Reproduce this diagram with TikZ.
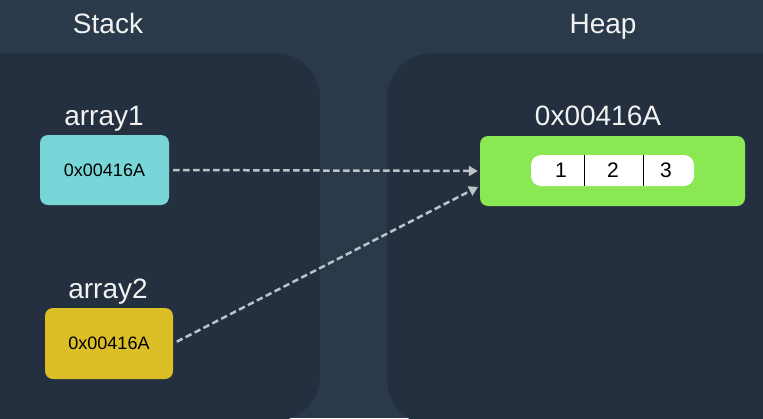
\documentclass[tikz,border=0pt]{standalone}
\usepackage{fontspec}
\setmainfont{Liberation Sans}
\usetikzlibrary{arrows.meta}
\definecolor{bgc}{HTML}{2B3A4A}
\definecolor{panelc}{HTML}{243040}
\definecolor{cyanbox}{HTML}{78D5D8}
\definecolor{yellowbox}{HTML}{DCBF27}
\definecolor{greenbox}{HTML}{8AE852}
\definecolor{arrowc}{HTML}{BEC3C8}
\definecolor{labelc}{HTML}{F2F2F2}
\begin{document}
\begin{tikzpicture}[x=1pt,y=-1pt,
  title/.style={text=labelc,font=\fontsize{28}{30}\selectfont,inner sep=0pt,anchor=base},
  ptrbox/.style={rounded corners=8pt,minimum width=128pt,minimum height=70pt,
    font=\fontsize{18}{20}\selectfont,text=black,inner sep=0pt},
  cellnum/.style={font=\fontsize{21}{23}\selectfont,text=black,inner sep=0pt},
  ptrarrow/.style={draw=arrowc,line width=2.5pt,dash pattern=on 6.5pt off 3.5pt,
    -{Triangle[length=9pt,width=10pt]},shorten <=4pt,shorten >=2pt}
]
\fill[bgc] (0,0) rectangle (763,418);
\useasboundingbox (0,0) rectangle (763,418);
\fill[panelc,rounded corners=45pt] (-60,53) rectangle (320,421);
\fill[panelc,rounded corners=45pt] (387,53) rectangle (830,425);

\node[title] (stack) at (108,33) {Stack};
\node[title] (heaplbl) at (603,33) {Heap};
\node[title] (a1lbl) at (104,125) {array1};
\node[title] (a2lbl) at (108,298) {array2};
\node[title] (addrlbl) at (598,125) {0x00416A};

\node[ptrbox,fill=cyanbox,minimum width=129pt] (a1) at (104.5,170) {0x00416A};
\node[ptrbox,fill=yellowbox,minimum height=71pt] (a2) at (109,343.5) {0x00416A};

\node[rounded corners=8pt,fill=greenbox,minimum width=265pt,minimum height=70pt,inner sep=0pt] (heap) at (612.5,171) {};
\node[rounded corners=10pt,fill=white,minimum width=163pt,minimum height=31pt,inner sep=0pt] (cells) at (612.5,170.5) {};
\coordinate (d1t) at (584,155);
\coordinate (d1b) at (584,186);
\coordinate (d2t) at (643,155);
\coordinate (d2b) at (643,186);
\draw[black,line width=1pt] (d1t) -- (d1b);
\draw[black,line width=1pt] (d2t) -- (d2b);
\node[cellnum] (c1) at (561,170.5) {1};
\node[cellnum] (c2) at (613,170.5) {2};
\node[cellnum] (c3) at (666,170.5) {3};

\draw[ptrarrow] (a1.east) -- (heap.west);
\draw[ptrarrow] (a2.east) -- ([yshift=-15pt]heap.west);
\end{tikzpicture}
\end{document}
